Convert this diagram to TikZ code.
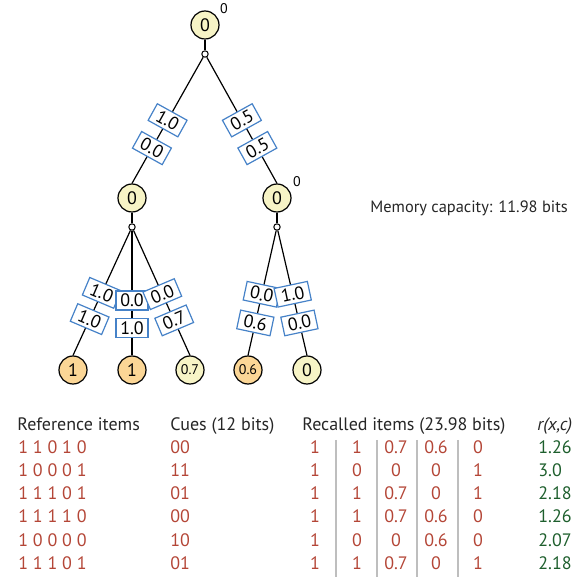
\documentclass[tikz,border=0pt]{standalone}
\usepackage{fontspec}
\setmainfont{PT Sans}

\definecolor{stateyellow}{RGB}{247,244,198}
\definecolor{stateorange}{RGB}{251,214,150}
\definecolor{weightblue}{RGB}{70,130,200}
\definecolor{itemred}{RGB}{180,70,55}
\definecolor{scoregreen}{RGB}{30,95,45}
\definecolor{sepgray}{RGB}{190,190,190}

\tikzset{
  state/.style={circle, draw, line width=0.6pt, fill=stateyellow, minimum size=14pt,
    inner sep=0pt, font=\fontsize{9}{10}\selectfont},
  hitstate/.style={state, fill=stateorange},
  smallval/.style={font=\fontsize{7}{8}\selectfont},
  junc/.style={circle, draw, line width=0.5pt, fill=white, inner sep=0pt, minimum size=3.2pt},
  weight/.style={draw=weightblue, line width=0.6pt, fill=white, inner sep=0pt,
    minimum width=17pt, minimum height=9.5pt, font=\fontsize{9}{10}\selectfont},
  sup/.style={inner sep=0pt, font=\fontsize{7}{8}\selectfont},
  edge/.style={line width=0.6pt},
  headtxt/.style={inner sep=0pt, anchor=base west, font=\fontsize{9}{11}\selectfont, text=black!85},
  itemtxt/.style={inner sep=0pt, font=\fontsize{9}{11}\selectfont, text=itemred},
  scoretxt/.style={inner sep=0pt, anchor=base west, font=\fontsize{9}{11}\selectfont, text=scoregreen},
  colsep/.style={draw=sepgray, line width=0.6pt}
}

\begin{document}
\begin{tikzpicture}[x=0.5pt, y={(0pt,-0.5pt)}]
\useasboundingbox (0,0) rectangle (579,577);

% tree
\node[state] (root) at (205,25) {0};
\node[sup] (rootsup) at (224,9) {0};
\node[junc] (j0) at (205,54) {};

\node[state] (left) at (132,198) {0};
\node[junc] (j1) at (132,227) {};
\node[state] (right) at (277,198) {0};
\node[sup] (rightsup) at (297,182) {0};
\node[junc] (j2) at (277,227) {};

\node[hitstate] (leafa) at (73,370) {1};
\node[hitstate] (leafb) at (132,370) {1};
\node[state, smallval] (leafc) at (190,370) {0.7};
\node[hitstate, smallval] (leafd) at (248,370) {0.6};
\node[state] (leafe) at (307,370) {0};

\draw[edge] (root) -- (j0);
\draw[edge] (left) -- (j1);
\draw[edge] (right) -- (j2);

\draw[edge] (j0) -- (left.north)
  node[weight, pos=.50, rotate=-29] (wla) {1.0}
  node[weight, pos=.72, rotate=-29] (wlb) {0.0};
\draw[edge] (j0) -- (right.north)
  node[weight, pos=.50, rotate=29] (wra) {0.5}
  node[weight, pos=.72, rotate=29] (wrb) {0.5};

\draw[edge] (j1) -- (leafa.north)
  node[weight, pos=.50, rotate=-23] (waa) {1.0}
  node[weight, pos=.71, rotate=-23] (wab) {1.0};
\draw[edge] (j1) -- (leafb.north)
  node[weight, pos=.56, minimum width=16pt] (wba) {0.0}
  node[weight, pos=.78, minimum width=16pt] (wbb) {1.0};
\draw[edge] (j1) -- (leafc.north)
  node[weight, pos=.51, rotate=23] (wca) {0.0}
  node[weight, pos=.72, rotate=23] (wcb) {0.7};

\draw[edge] (j2) -- (leafd.north)
  node[weight, pos=.51, rotate=-12] (wda) {0.0}
  node[weight, pos=.74, rotate=-12] (wdb) {0.6};
\draw[edge] (j2) -- (leafe.north)
  node[weight, pos=.51, rotate=12] (wea) {1.0}
  node[weight, pos=.74, rotate=12] (web) {0.0};

\node[headtxt, anchor=west, font=\fontsize{8.2}{10}\selectfont] (capacity) at (370,208) {Memory capacity: 11.98 bits};

% table
\node[headtxt] (refhead) at (17,430) {Reference items};
\node[headtxt] (cuehead) at (170,430) {Cues (12 bits)};
\node[headtxt] (rechead) at (302,430) {Recalled items (23.98 bits)};
\node[headtxt] (rhead) at (537,430) {\itshape r(x,c)};

\draw[colsep] (336,440) -- (336,577);
\draw[colsep] (377,440) -- (377,577);
\draw[colsep] (417,440) -- (417,577);
\draw[colsep] (458,440) -- (458,577);

\node[itemtxt, anchor=base west] (refa) at (18,454) {1 1 0 1 0};
\node[itemtxt, anchor=base west] (refb) at (18,477) {1 0 0 0 1};
\node[itemtxt, anchor=base west] (refc) at (18,500) {1 1 1 0 1};
\node[itemtxt, anchor=base west] (refd) at (18,523) {1 1 1 1 0};
\node[itemtxt, anchor=base west] (refe) at (18,546) {1 0 0 0 0};
\node[itemtxt, anchor=base west] (reff) at (18,569) {1 1 1 0 1};

\node[itemtxt, anchor=base west] (cuea) at (170,454) {00};
\node[itemtxt, anchor=base west] (cueb) at (170,477) {11};
\node[itemtxt, anchor=base west] (cuec) at (170,500) {01};
\node[itemtxt, anchor=base west] (cued) at (170,523) {00};
\node[itemtxt, anchor=base west] (cuee) at (170,546) {10};
\node[itemtxt, anchor=base west] (cuef) at (170,569) {01};

\node[itemtxt, anchor=base] (reca1) at (315,454) {1};
\node[itemtxt, anchor=base] (reca2) at (357,454) {1};
\node[itemtxt, anchor=base] (reca3) at (396,454) {0.7};
\node[itemtxt, anchor=base] (reca4) at (436,454) {0.6};
\node[itemtxt, anchor=base] (reca5) at (478,454) {0};

\node[itemtxt, anchor=base] (recb1) at (315,477) {1};
\node[itemtxt, anchor=base] (recb2) at (357,477) {0};
\node[itemtxt, anchor=base] (recb3) at (396,477) {0};
\node[itemtxt, anchor=base] (recb4) at (436,477) {0};
\node[itemtxt, anchor=base] (recb5) at (478,477) {1};

\node[itemtxt, anchor=base] (recc1) at (315,500) {1};
\node[itemtxt, anchor=base] (recc2) at (357,500) {1};
\node[itemtxt, anchor=base] (recc3) at (396,500) {0.7};
\node[itemtxt, anchor=base] (recc4) at (436,500) {0};
\node[itemtxt, anchor=base] (recc5) at (478,500) {1};

\node[itemtxt, anchor=base] (recd1) at (315,523) {1};
\node[itemtxt, anchor=base] (recd2) at (357,523) {1};
\node[itemtxt, anchor=base] (recd3) at (396,523) {0.7};
\node[itemtxt, anchor=base] (recd4) at (436,523) {0.6};
\node[itemtxt, anchor=base] (recd5) at (478,523) {0};

\node[itemtxt, anchor=base] (rece1) at (315,546) {1};
\node[itemtxt, anchor=base] (rece2) at (357,546) {0};
\node[itemtxt, anchor=base] (rece3) at (396,546) {0};
\node[itemtxt, anchor=base] (rece4) at (436,546) {0.6};
\node[itemtxt, anchor=base] (rece5) at (478,546) {0};

\node[itemtxt, anchor=base] (recf1) at (315,569) {1};
\node[itemtxt, anchor=base] (recf2) at (357,569) {1};
\node[itemtxt, anchor=base] (recf3) at (396,569) {0.7};
\node[itemtxt, anchor=base] (recf4) at (436,569) {0};
\node[itemtxt, anchor=base] (recf5) at (478,569) {1};

\node[scoretxt] (scorea) at (538,454) {1.26};
\node[scoretxt] (scoreb) at (538,477) {3.0};
\node[scoretxt] (scorec) at (538,500) {2.18};
\node[scoretxt] (scored) at (538,523) {1.26};
\node[scoretxt] (scoree) at (538,546) {2.07};
\node[scoretxt] (scoref) at (538,569) {2.18};
\end{tikzpicture}
\end{document}
